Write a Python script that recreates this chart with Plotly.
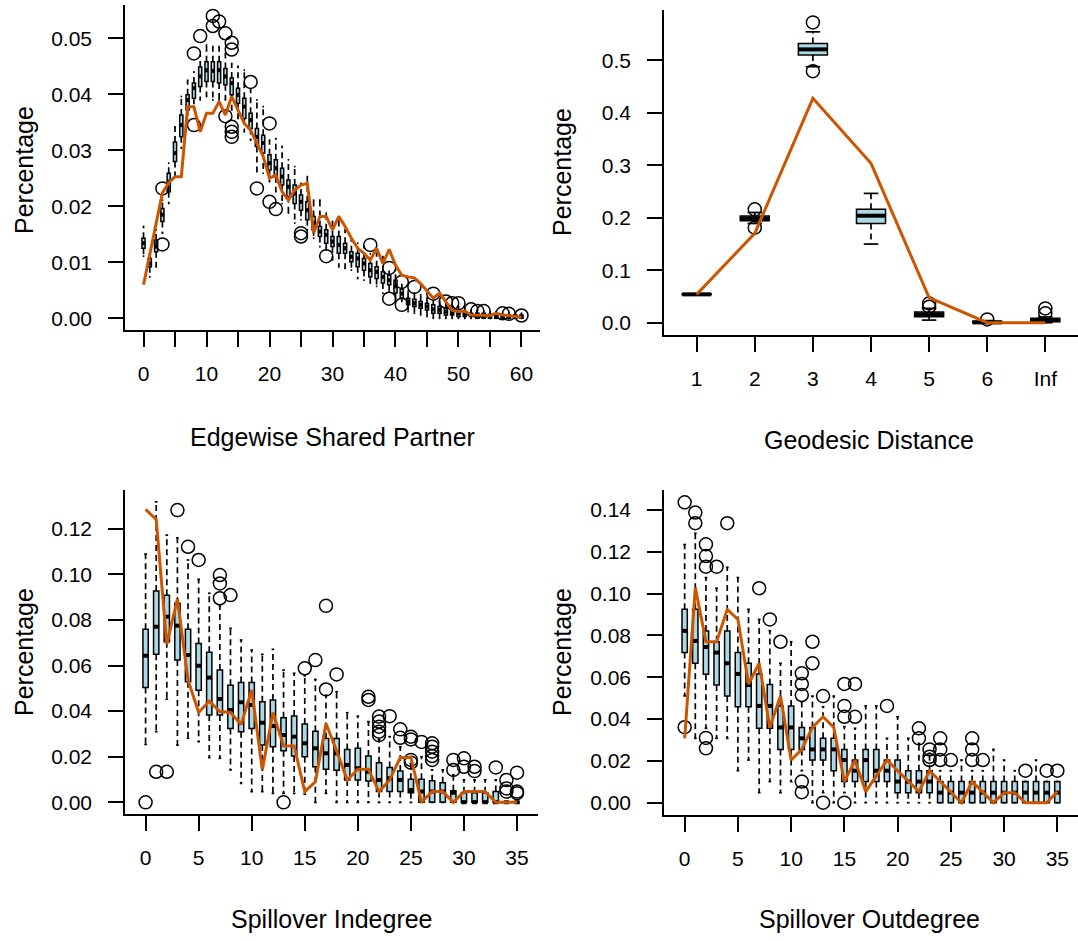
import plotly.graph_objects as go

W, H = 1078, 941

# ---------------- Edgewise Shared Partner (0..60) ----------------
esp_cat = list(range(61))
esp_med = [0.0134, 0.0098, 0.0128, 0.0185, 0.0244, 0.0295, 0.0345, 0.0390, 0.0411, 0.0432,
           0.0443, 0.0442, 0.0443, 0.0432, 0.0420, 0.0399, 0.0378, 0.0354, 0.0324, 0.0313,
           0.0277, 0.0268, 0.0253, 0.0235, 0.0223, 0.0208, 0.0193, 0.0170, 0.0155, 0.0149,
           0.0137, 0.0131, 0.0125, 0.0110, 0.0107, 0.0098, 0.0086, 0.0083, 0.0074, 0.0068,
           0.0057, 0.0044, 0.0030, 0.0027, 0.0024, 0.0021, 0.0016, 0.0015, 0.0012, 0.0009,
           0.0009, 0.0006, 0.0006, 0.0006, 0.0005, 0.0005, 0.0003, 0.0003, 0.0003, 0.0003, 0.0003]
esp_q1 = [0.0125, 0.0092, 0.0119, 0.0173, 0.0226, 0.0280, 0.0324, 0.0372, 0.0393, 0.0414,
          0.0423, 0.0423, 0.0420, 0.0417, 0.0399, 0.0384, 0.0357, 0.0339, 0.0307, 0.0295,
          0.0265, 0.0253, 0.0238, 0.0217, 0.0205, 0.0193, 0.0176, 0.0158, 0.0146, 0.0134,
          0.0128, 0.0116, 0.0116, 0.0101, 0.0092, 0.0086, 0.0074, 0.0071, 0.0063, 0.0060,
          0.0045, 0.0036, 0.0024, 0.0021, 0.0018, 0.0015, 0.0009, 0.0009, 0.0006, 0.0006,
          0.0003, 0.0003, 0.0003, 0.0, 0.0, 0.0, 0.0, 0.0, 0.0, 0.0, 0.0]
esp_q3 = [0.0143, 0.0107, 0.0140, 0.0196, 0.0259, 0.0315, 0.0363, 0.0399, 0.0420, 0.0449,
          0.0458, 0.0458, 0.0458, 0.0446, 0.0429, 0.0411, 0.0393, 0.0366, 0.0339, 0.0327,
          0.0292, 0.0283, 0.0268, 0.0247, 0.0238, 0.0220, 0.0208, 0.0182, 0.0164, 0.0158,
          0.0146, 0.0146, 0.0134, 0.0119, 0.0116, 0.0107, 0.0098, 0.0092, 0.0083, 0.0077,
          0.0068, 0.0052, 0.0036, 0.0034, 0.0030, 0.0027, 0.0024, 0.0021, 0.0018, 0.0015,
          0.0012, 0.0012, 0.0009, 0.0009, 0.0009, 0.0006, 0.0006, 0.0006, 0.0006, 0.0006, 0.0006]
esp_lo = [0.0111, 0.0074, 0.0092, 0.0152, 0.0205, 0.0253, 0.0304, 0.0355, 0.0372, 0.0390,
          0.0396, 0.0390, 0.0390, 0.0390, 0.0372, 0.0357, 0.0333, 0.0318, 0.0262, 0.0259,
          0.0244, 0.0226, 0.0205, 0.0188, 0.0170, 0.0176, 0.0158, 0.0143, 0.0128, 0.0122,
          0.0104, 0.0092, 0.0089, 0.0086, 0.0071, 0.0068, 0.0063, 0.0057, 0.0045, 0.0048,
          0.0033, 0.0030, 0.0012, 0.0009, 0.0006, 0.0003, 0.0, 0.0, 0.0, 0.0,
          0.0, 0.0, 0.0, 0.0, 0.0, 0.0, 0.0, 0.0, 0.0, 0.0, 0.0]
esp_hi = [0.0164, 0.0116, 0.0158, 0.0211, 0.0277, 0.0342, 0.0396, 0.0425, 0.0440, 0.0470,
          0.0488, 0.0485, 0.0485, 0.0473, 0.0455, 0.0450, 0.0443, 0.0408, 0.0390, 0.0378,
          0.0318, 0.0321, 0.0307, 0.0283, 0.0271, 0.0241, 0.0253, 0.0211, 0.0211, 0.0188,
          0.0173, 0.0176, 0.0158, 0.0140, 0.0134, 0.0128, 0.0115, 0.0116, 0.0110, 0.0084,
          0.0086, 0.0060, 0.0048, 0.0045, 0.0042, 0.0036, 0.0036, 0.0030, 0.0024, 0.0021,
          0.0021, 0.0018, 0.0015, 0.0015, 0.0012, 0.0012, 0.0012, 0.0009, 0.0009, 0.0009, 0.0009]
esp_out_x = [3, 3, 8, 8, 9, 11, 11, 12, 13, 13, 14, 14, 14, 14, 14, 17, 18, 20, 20, 21,
             25, 25, 29, 36, 39, 39, 41, 41, 43, 46, 48, 49, 50, 52, 53, 54, 57, 58, 60]
esp_out_y = [0.0232, 0.0132, 0.0473, 0.0345, 0.0504, 0.0540, 0.0522, 0.0530, 0.0509, 0.0361,
             0.0492, 0.0480, 0.0342, 0.0333, 0.0324, 0.0422, 0.0232, 0.0348, 0.0208, 0.0195,
             0.0152, 0.0146, 0.0111, 0.0131, 0.0090, 0.0035, 0.0065, 0.0024, 0.0056, 0.0044,
             0.0030, 0.0027, 0.0027, 0.0016, 0.0013, 0.0013, 0.0009, 0.0008, 0.0005]
esp_obs = [0.0060, 0.0116, 0.0173, 0.0224, 0.0242, 0.0253, 0.0253, 0.0378, 0.0378, 0.0333,
           0.0366, 0.0366, 0.0387, 0.0363, 0.0396, 0.0372, 0.0348, 0.0336, 0.0313, 0.0289,
           0.0250, 0.0256, 0.0226, 0.0211, 0.0229, 0.0238, 0.0241, 0.0152, 0.0182, 0.0182,
           0.0158, 0.0182, 0.0164, 0.0143, 0.0125, 0.0116, 0.0104, 0.0125, 0.0098, 0.0123,
           0.0095, 0.0077, 0.0074, 0.0072, 0.0062, 0.0048, 0.0036, 0.0045, 0.0030, 0.0014,
           0.0012, 0.0013, 0.0006, 0.0006, 0.0005, 0.0005, 0.0009, 0.0006, 0.0005, 0.0003, 0.0002]

# ---------------- Geodesic Distance ----------------
gd_cat = [1, 2, 3, 4, 5, 6, 7]
gd_labels = ["1", "2", "3", "4", "5", "6", "Inf"]
gd_med = [0.054, 0.1987, 0.5206, 0.2038, 0.0159, 0.0006, 0.0050]
gd_q1 = [0.0535, 0.1943, 0.5100, 0.1892, 0.0114, 0.0, 0.0019]
gd_q3 = [0.0545, 0.2032, 0.5320, 0.2159, 0.0203, 0.0030, 0.0083]
gd_lo = [0.0530, 0.1890, 0.4876, 0.1498, 0.0050, 0.0, 0.0]
gd_hi = [0.0550, 0.2100, 0.5540, 0.2463, 0.0273, 0.0040, 0.0110]
gd_out_x = [2, 2, 3, 3, 5, 5, 6, 7, 7]
gd_out_y = [0.216, 0.181, 0.572, 0.479, 0.0368, 0.0305, 0.0063, 0.0273, 0.0178]
gd_obs = [0.054, 0.1702, 0.4273, 0.3035, 0.0476, 0.0, 0.0]

# ---------------- Spillover Indegree (0..35) ----------------
ind_cat = list(range(36))
ind_med = [0.0643, 0.0770, 0.0814, 0.0775, 0.0646, 0.0599, 0.0547, 0.0453, 0.0405, 0.0439,
           0.0427, 0.0349, 0.0335, 0.0295, 0.0288, 0.0259, 0.0237, 0.0215, 0.0215, 0.0164,
           0.0149, 0.0134, 0.0098, 0.0105, 0.0098, 0.0054, 0.0047, 0.0047, 0.0047, 0.0042,
           0.0, 0.0, 0.0, 0.0, 0.0, 0.0]
ind_q1 = [0.0504, 0.0650, 0.0704, 0.0624, 0.0529, 0.0492, 0.0383, 0.0383, 0.0324, 0.0310,
          0.0324, 0.0251, 0.0244, 0.0226, 0.0203, 0.0200, 0.0156, 0.0145, 0.0141, 0.0098,
          0.0098, 0.0093, 0.0047, 0.0047, 0.0047, 0.0042, 0.0, 0.0, 0.0, 0.0,
          0.0, 0.0, 0.0, 0.0, 0.0, 0.0]
ind_q3 = [0.0759, 0.0927, 0.0908, 0.0873, 0.0759, 0.0697, 0.0658, 0.0580, 0.0514, 0.0526,
          0.0526, 0.0441, 0.0449, 0.0371, 0.0379, 0.0343, 0.0312, 0.0280, 0.0280, 0.0232,
          0.0237, 0.0203, 0.0174, 0.0153, 0.0137, 0.0101, 0.0101, 0.0095, 0.0086, 0.0051,
          0.0042, 0.0042, 0.0042, 0.0047, 0.0, 0.0]
ind_lo = [0.0254, 0.0310, 0.0453, 0.0251, 0.0281, 0.0266, 0.0196, 0.0193, 0.0142, 0.0083,
          0.0047, 0.0047, 0.0039, 0.0039, 0.0039, 0.0036, 0.0, 0.0039, 0.0, 0.0,
          0.0, 0.0, 0.0, 0.0, 0.0, 0.0, 0.0, 0.0, 0.0, 0.0,
          0.0, 0.0, 0.0, 0.0, 0.0, 0.0]
ind_hi = [0.1089, 0.1318, 0.1172, 0.1160, 0.1063, 0.0978, 0.0917, 0.0861, 0.0763, 0.0712,
          0.0668, 0.0649, 0.0671, 0.0580, 0.0566, 0.0555, 0.0539, 0.0470, 0.0485, 0.0393,
          0.0378, 0.0354, 0.0275, 0.0288, 0.0244, 0.0171, 0.0200, 0.0142, 0.0142, 0.0120,
          0.0098, 0.0098, 0.0098, 0.0098, 0.0, 0.0]
ind_out_x = [0, 1, 2, 3, 4, 5, 7, 7, 7, 8, 13, 15, 16, 17, 17, 18, 21, 21, 22, 22, 22, 22, 22,
             23, 24, 24, 25, 25, 25, 25, 26, 27, 27, 27, 27, 27, 29, 29, 30, 30, 31, 31, 33,
             34, 34, 34, 35, 35, 35]
ind_out_y = [0.0, 0.0134, 0.0134, 0.1282, 0.1121, 0.1063, 0.0997, 0.0960, 0.0895, 0.0909,
             0.0, 0.0588, 0.0624, 0.0862, 0.0495, 0.0561, 0.0463, 0.0449, 0.0376, 0.0354,
             0.0332, 0.0310, 0.0295, 0.0378, 0.0320, 0.0283, 0.0288, 0.0276, 0.0186, 0.0174,
             0.0265, 0.0259, 0.0244, 0.0222, 0.0203, 0.0186, 0.0186, 0.0142, 0.0193, 0.0156,
             0.0156, 0.0137, 0.0153, 0.0098, 0.0061, 0.0047, 0.0130, 0.0047, 0.0040]
ind_obs = [0.1285, 0.1241, 0.0694, 0.0892, 0.0536, 0.0394, 0.0444, 0.0398, 0.0394, 0.0341,
           0.0493, 0.0142, 0.0394, 0.0248, 0.0247, 0.0047, 0.0090, 0.0346, 0.0226, 0.0098,
           0.0145, 0.0145, 0.0047, 0.0098, 0.0197, 0.0197, 0.0, 0.0047, 0.0047, 0.0,
           0.0047, 0.0047, 0.0047, 0.0, 0.0, 0.0]

# ---------------- Spillover Outdegree (0..35) ----------------
outd_cat = list(range(36))
outd_med = [0.0822, 0.0774, 0.0745, 0.0718, 0.0667, 0.0616, 0.0563, 0.0463, 0.0463, 0.0360,
            0.0360, 0.0308, 0.0255, 0.0255, 0.0255, 0.0204, 0.0153, 0.0204, 0.0153, 0.0153,
            0.0101, 0.0101, 0.0101, 0.0101, 0.0048, 0.0048, 0.0048, 0.0048, 0.0048, 0.0048,
            0.0048, 0.0048, 0.0048, 0.0048, 0.0048, 0.0048]
outd_q1 = [0.0718, 0.0667, 0.0614, 0.0563, 0.0511, 0.0459, 0.0459, 0.0356, 0.0356, 0.0255,
           0.0255, 0.0255, 0.0204, 0.0204, 0.0153, 0.0101, 0.0101, 0.0101, 0.0101, 0.0101,
           0.0048, 0.0048, 0.0048, 0.0048, 0.0, 0.0, 0.0, 0.0, 0.0, 0.0,
           0.0, 0.0, 0.0, 0.0, 0.0, 0.0]
outd_q3 = [0.0925, 0.0925, 0.0822, 0.0770, 0.0822, 0.0718, 0.0667, 0.0616, 0.0566, 0.0463,
           0.0463, 0.0360, 0.0360, 0.0308, 0.0308, 0.0255, 0.0204, 0.0255, 0.0255, 0.0204,
           0.0204, 0.0153, 0.0153, 0.0153, 0.0101, 0.0101, 0.0101, 0.0101, 0.0101, 0.0101,
           0.0101, 0.0101, 0.0101, 0.0101, 0.0101, 0.0101]
outd_lo = [0.0511, 0.0308, 0.0356, 0.0308, 0.0308, 0.0153, 0.0204, 0.0048, 0.0101, 0.0048,
           0.0101, 0.0153, 0.0, 0.0048, 0.0, 0.0048, 0.0, 0.0, 0.0, 0.0,
           0.0, 0.0, 0.0, 0.0, 0.0, 0.0, 0.0, 0.0, 0.0, 0.0,
           0.0, 0.0, 0.0, 0.0, 0.0, 0.0]
outd_hi = [0.1235, 0.1289, 0.1077, 0.1026, 0.1126, 0.1077, 0.0925, 0.0877, 0.0823, 0.0667,
           0.0770, 0.0482, 0.0510, 0.0459, 0.0510, 0.0364, 0.0356, 0.0463, 0.0463, 0.0308,
           0.0411, 0.0308, 0.0284, 0.0236, 0.0153, 0.0153, 0.0204, 0.0153, 0.0153, 0.0255,
           0.0204, 0.0153, 0.0101, 0.0204, 0.0101, 0.0101]
outd_out_x = [0, 0, 1, 1, 2, 2, 2, 2, 2, 3, 4, 7, 8, 9, 11, 11, 11, 11, 11, 12, 12, 13, 13,
              15, 15, 15, 15, 16, 16, 19, 22, 22, 23, 23, 23, 24, 24, 24, 25, 27, 27, 27, 28,
              32, 34, 35]
outd_out_y = [0.1437, 0.0361, 0.1388, 0.1337, 0.1236, 0.1180, 0.1129, 0.0310, 0.0260, 0.1129,
              0.1337, 0.1026, 0.0877, 0.0770, 0.0619, 0.0568, 0.0515, 0.0101, 0.0050, 0.0770,
              0.0667, 0.0510, 0.0, 0.0568, 0.0463, 0.0411, 0.0, 0.0568, 0.0411, 0.0463,
              0.0356, 0.0308, 0.0255, 0.0220, 0.0204, 0.0308, 0.0255, 0.0204, 0.0204, 0.0308,
              0.0255, 0.0204, 0.0204, 0.0153, 0.0153, 0.0153]
outd_obs = [0.0308, 0.1029, 0.0770, 0.0770, 0.0925, 0.0877, 0.0568, 0.0667, 0.0360, 0.0510,
            0.0204, 0.0255, 0.0360, 0.0411, 0.0360, 0.0101, 0.0204, 0.0053, 0.0128, 0.0204,
            0.0153, 0.0101, 0.0053, 0.0153, 0.0102, 0.0051, 0.0, 0.0101, 0.0051, 0.0,
            0.0048, 0.0048, 0.0, 0.0, 0.0, 0.0053]

ORANGE = "#CC5500"
BOXFILL = "#ADD8E6"
FONT = "Liberation Sans, Arial, Helvetica, sans-serif"

fig = go.Figure()


def add_panel(ax, cat, med, q1, q3, lo, hi, ox, oy, obs):
    xa, ya = "x" + ax, "y" + ax
    # dashed whiskers
    wx, wy = [], []
    for c, a, b, l, h in zip(cat, q1, q3, lo, hi):
        wx += [c, c, None, c, c, None]
        wy += [b, h, None, a, l, None]
    fig.add_trace(go.Scatter(x=wx, y=wy, mode="lines", xaxis=xa, yaxis=ya,
                             line=dict(color="black", width=1.7, dash="6px,4px"),
                             hoverinfo="skip", showlegend=False))
    # staples
    sx, sy = [], []
    for c, l, h in zip(cat, lo, hi):
        sx += [c - 0.125, c + 0.125, None, c - 0.125, c + 0.125, None]
        sy += [h, h, None, l, l, None]
    fig.add_trace(go.Scatter(x=sx, y=sy, mode="lines", xaxis=xa, yaxis=ya,
                             line=dict(color="black", width=1.7),
                             hoverinfo="skip", showlegend=False))
    # boxes
    fig.add_trace(go.Box(x=cat, q1=q1, median=med, q3=q3, lowerfence=q1, upperfence=q3,
                         xaxis=xa, yaxis=ya, width=0.5, fillcolor=BOXFILL,
                         line=dict(color="black", width=1.5), whiskerwidth=0,
                         boxpoints=False, hoverinfo="skip", showlegend=False))
    # thick medians
    mx, my = [], []
    for c, m in zip(cat, med):
        mx += [c - 0.25, c + 0.25, None]
        my += [m, m, None]
    fig.add_trace(go.Scatter(x=mx, y=my, mode="lines", xaxis=xa, yaxis=ya,
                             line=dict(color="black", width=4),
                             hoverinfo="skip", showlegend=False))
    # outliers
    fig.add_trace(go.Scatter(x=ox, y=oy, mode="markers", xaxis=xa, yaxis=ya,
                             marker=dict(symbol="circle-open", size=13,
                                         line=dict(color="black", width=1.5), color="black"),
                             hoverinfo="skip", showlegend=False))
    # observed line
    fig.add_trace(go.Scatter(x=cat, y=obs, mode="lines", xaxis=xa, yaxis=ya,
                             line=dict(color=ORANGE, width=3),
                             hoverinfo="skip", showlegend=False))


add_panel("", esp_cat, esp_med, esp_q1, esp_q3, esp_lo, esp_hi, esp_out_x, esp_out_y, esp_obs)
add_panel("2", gd_cat, gd_med, gd_q1, gd_q3, gd_lo, gd_hi, gd_out_x, gd_out_y, gd_obs)
add_panel("3", ind_cat, ind_med, ind_q1, ind_q3, ind_lo, ind_hi, ind_out_x, ind_out_y, ind_obs)
add_panel("4", outd_cat, outd_med, outd_q1, outd_q3, outd_lo, outd_hi, outd_out_x, outd_out_y, outd_obs)

common = dict(showline=True, linecolor="black", linewidth=1.6, ticks="outside",
              ticklen=15, tickwidth=1.6, tickcolor="black", showgrid=False, zeroline=False,
              tickfont=dict(family=FONT, size=21, color="black"), mirror=False)


def px_dom(a, b, total):
    return [a / total, b / total]


def py_dom(top, bottom):
    return [1 - bottom / H, 1 - top / H]


esp_ticks = list(range(0, 61, 5))
ind_ticks = list(range(0, 36, 5))

fig.update_layout(
    width=W, height=H, margin=dict(l=0, r=0, t=0, b=0),
    paper_bgcolor="white", plot_bgcolor="white", showlegend=False,
    xaxis=dict(domain=px_dom(125, 540, W), range=[-2.94, 62.94], anchor="y",
               tickvals=esp_ticks, ticktext=[str(t) if t % 10 == 0 else "" for t in esp_ticks],
               ticklabelstandoff=9, **common),
    yaxis=dict(domain=py_dom(5, 330), range=[-0.00209, 0.05595], anchor="x",
               tickvals=[0, 0.01, 0.02, 0.03, 0.04, 0.05], tickformat=".2f",
               ticklabelstandoff=12, **common),
    xaxis2=dict(domain=px_dom(664, 1078, W), range=[0.438, 7.562], anchor="y2",
                tickvals=gd_cat, ticktext=gd_labels, ticklabelstandoff=9, **common),
    yaxis2=dict(domain=py_dom(10, 335), range=[-0.0234, 0.5956], anchor="x2",
                tickvals=[0, 0.1, 0.2, 0.3, 0.4, 0.5], tickformat=".1f",
                ticklabelstandoff=12, **common),
    xaxis3=dict(domain=px_dom(125, 537.6, W), range=[-1.94, 36.94], anchor="y3",
                tickvals=ind_ticks, ticktext=[str(t) for t in ind_ticks],
                ticklabelstandoff=9, **common),
    yaxis3=dict(domain=py_dom(490, 814.3), range=[-0.00526, 0.137], anchor="x3",
                tickvals=[0, 0.02, 0.04, 0.06, 0.08, 0.10, 0.12], tickformat=".2f",
                ticklabelstandoff=12, **common),
    xaxis4=dict(domain=px_dom(664, 1078, W), range=[-1.94, 36.94], anchor="y4",
                tickvals=ind_ticks, ticktext=[str(t) for t in ind_ticks],
                ticklabelstandoff=9, **common),
    yaxis4=dict(domain=py_dom(490, 815), range=[-0.00589, 0.1496], anchor="x4",
                tickvals=[0, 0.02, 0.04, 0.06, 0.08, 0.10, 0.12, 0.14], tickformat=".2f",
                ticklabelstandoff=12, **common),
)

titles = [
    ("Edgewise Shared Partner", 332, 437, 0),
    ("Geodesic Distance", 869, 440, 0),
    ("Spillover Indegree", 332, 919, 0),
    ("Spillover Outdegree", 869, 919, 0),
    ("Percentage", 24, 170, -90),
    ("Percentage", 562, 172, -90),
    ("Percentage", 24, 652, -90),
    ("Percentage", 562, 652, -90),
]
for txt, xp, yp, ang in titles:
    fig.add_annotation(text=txt, xref="paper", yref="paper", x=xp / W, y=1 - yp / H,
                       xanchor="center", yanchor="middle", showarrow=False, textangle=ang,
                       font=dict(family=FONT, size=25, color="black"))

fig.write_html("out.html")
